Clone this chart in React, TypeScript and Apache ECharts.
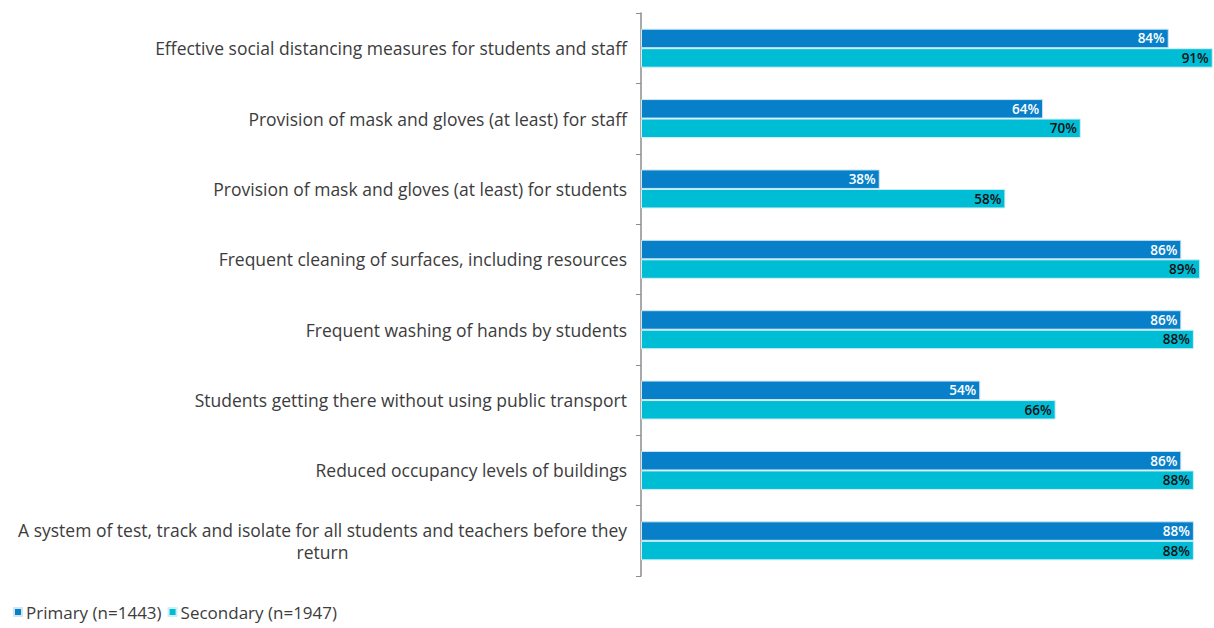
import React, { useEffect, useRef } from "react";
import * as echarts from "echarts";

const categories = [
  "Effective social distancing measures for students and staff",
  "Provision of mask and gloves (at least) for staff",
  "Provision of mask and gloves (at least) for students",
  "Frequent cleaning of surfaces, including resources",
  "Frequent washing of hands by students",
  "Students getting there without using public transport",
  "Reduced occupancy levels of buildings",
  "A system of test, track and isolate for all students and teachers before they\nreturn",
];
const primaryValues = [84, 64, 38, 86, 86, 54, 86, 88];
const secondaryValues = [91, 70, 58, 89, 88, 66, 88, 88];
const seriesNames = ["Primary (n=1443)", "Secondary (n=1947)"];

const FONT = "Open Sans";
const TEXT = "#3c3c3c";

export default function App() {
  const ref = useRef<HTMLDivElement>(null);
  useEffect(() => {
    if (!ref.current) return;
    const chart = echarts.init(ref.current, undefined, { renderer: "svg" });
    const labelStyle = (color: string) => ({
      show: true,
      position: "insideRight" as const,
      distance: 4,
      formatter: "{c}%",
      color,
      fontFamily: FONT,
      fontSize: 13.5,
      fontWeight: 600,
    });
    chart.setOption({
      animation: false,
      legend: {
        left: 8,
        top: 597,
        itemWidth: 8,
        itemHeight: 8,
        itemGap: 6,
        icon: "rect",
        textStyle: {
          fontFamily: FONT,
          fontSize: 17,
          lineHeight: 20,
          color: TEXT,
          padding: [0, 0, 0, -1],
        },
        data: seriesNames,
      },
      grid: { left: 641, right: -4, top: 13, bottom: 52, containLabel: false },
      xAxis: { type: "value", min: 0, max: 91.2, show: false, splitLine: { show: false } },
      yAxis: {
        type: "category",
        inverse: true,
        data: categories,
        axisLine: { show: true, lineStyle: { color: "#8c8c8c", width: 1.5 } },
        axisTick: { show: true, length: 5, lineStyle: { color: "#8c8c8c" } },
        axisLabel: {
          margin: 14,
          align: "right",
          fontFamily: FONT,
          fontSize: 17.5,
          color: TEXT,
          lineHeight: 22,
          formatter: (v: string) => {
            const parts = v.split("\n");
            if (parts.length === 1) return v;
            return "{l|" + parts[0] + "}\n{c|" + parts[1] + "}";
          },
          rich: {
            l: { fontFamily: FONT, fontSize: 17.5, color: TEXT, lineHeight: 22 },
            c: { fontFamily: FONT, fontSize: 17.5, color: TEXT, lineHeight: 22, align: "center" },
          },
        },
      },
      series: [
        {
          name: seriesNames[0],
          type: "bar",
          data: primaryValues,
          barWidth: 19.5,
          barGap: "0%",
          itemStyle: { color: "#0880C9", borderColor: "#cfe6f4", borderWidth: 1 },
          label: labelStyle("#ffffff"),
        },
        {
          name: seriesNames[1],
          type: "bar",
          data: secondaryValues,
          barWidth: 19.5,
          barGap: "0%",
          itemStyle: { color: "#00BDD6", borderColor: "#cfeff5", borderWidth: 1 },
          label: labelStyle("#111111"),
        },
      ],
    });
    return () => chart.dispose();
  }, []);
  return (
    <div
      ref={ref}
      style={{ position: "fixed", left: 0, top: 0, width: 1214, height: 628, background: "#fff" }}
    />
  );
}
